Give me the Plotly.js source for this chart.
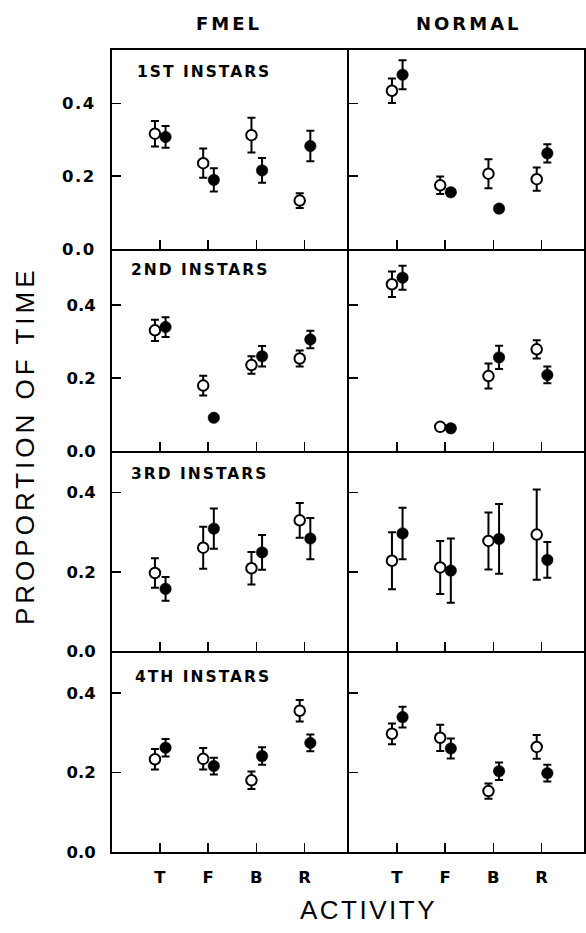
<!DOCTYPE html>
<html>
<head>
<meta charset="utf-8">
<script src="https://cdn.plot.ly/plotly-3.0.1.min.js"></script>
<style>
  html, body { margin: 0; padding: 0; background: #fff; }
  #chart { width: 586px; height: 933px; }
  .xtick text, .ytick text { letter-spacing: 1.5px; }
</style>
</head>
<body>
<div id="chart"></div>
<script>
// Activity categories along each panel's x axis
const activities = ['T', 'F', 'B', 'R'];
const groups = ['FMEL', 'NORMAL'];
const instars = ['1ST INSTARS', '2ND INSTARS', '3RD INSTARS', '4TH INSTARS'];
const yTicks = [0, 0.2, 0.4];
const yTickText = ['0.0', '0.2', '0.4'];

// Mean proportion of time, one row per instar (T, F, B, R)
const fmelOpen = [
  [0.317, 0.236, 0.313, 0.133],
  [0.330, 0.179, 0.235, 0.253],
  [0.197, 0.261, 0.209, 0.330],
  [0.233, 0.234, 0.180, 0.355]
];
const fmelOpenErr = [
  [0.035, 0.040, 0.048, 0.020],
  [0.029, 0.027, 0.024, 0.022],
  [0.037, 0.053, 0.041, 0.044],
  [0.026, 0.027, 0.022, 0.027]
];
const fmelFilled = [
  [0.308, 0.190, 0.216, 0.283],
  [0.339, 0.091, 0.259, 0.305],
  [0.157, 0.309, 0.249, 0.284],
  [0.262, 0.216, 0.241, 0.274]
];
const fmelFilledErr = [
  [0.030, 0.032, 0.034, 0.042],
  [0.027, 0.006, 0.028, 0.024],
  [0.030, 0.051, 0.044, 0.052],
  [0.022, 0.021, 0.022, 0.021]
];
const normalOpen = [
  [0.435, 0.175, 0.207, 0.192],
  [0.456, 0.066, 0.205, 0.278],
  [0.228, 0.211, 0.278, 0.294],
  [0.297, 0.287, 0.153, 0.264]
];
const normalOpenErr = [
  [0.034, 0.024, 0.040, 0.032],
  [0.035, 0.006, 0.034, 0.025],
  [0.072, 0.067, 0.072, 0.114],
  [0.026, 0.033, 0.019, 0.030]
];
const normalFilled = [
  [0.479, 0.156, 0.111, 0.263],
  [0.474, 0.062, 0.256, 0.208],
  [0.297, 0.203, 0.283, 0.230],
  [0.339, 0.260, 0.203, 0.198]
];
const normalFilledErr = [
  [0.040, 0.008, 0.005, 0.025],
  [0.033, 0.006, 0.032, 0.023],
  [0.065, 0.081, 0.088, 0.045],
  [0.026, 0.025, 0.022, 0.021]
];

// Page geometry in pixels: frame line centres
const W = 586, H = 933;
const colEdges = [111, 348, 585];
const rowEdges = [49, 250, 452, 652, 853];
const rowYMax = [0.547, 0.547, 0.5, 0.5];
const openShift = -0.1, filledShift = 0.12;
const LW = 2;   // frame line width; plot areas are inset so shared borders coincide

const px = v => v / W;
const py = v => 1 - v / H;

const series = {
  FMEL: { open: fmelOpen, openErr: fmelOpenErr, filled: fmelFilled, filledErr: fmelFilledErr },
  NORMAL: { open: normalOpen, openErr: normalOpenErr, filled: normalFilled, filledErr: normalFilledErr }
};

const tickFont = { family: 'DejaVu Sans', size: 16.5, color: '#000', weight: 'bold' };
const traces = [];
const layout = {
  width: W, height: H,
  margin: { l: 0, r: 0, t: 0, b: 0 },
  paper_bgcolor: '#fff', plot_bgcolor: '#fff',
  showlegend: false,
  annotations: []
};

function errBar(arr) {
  return { type: 'data', array: arr, visible: true, color: '#000', thickness: 2, width: 4 };
}

instars.forEach((label, r) => {
  groups.forEach((g, c) => {
    const n = r * 2 + c + 1;
    const xa = 'xaxis' + (n === 1 ? '' : n);
    const ya = 'yaxis' + (n === 1 ? '' : n);
    const xr = 'x' + (n === 1 ? '' : n);
    const yr = 'y' + (n === 1 ? '' : n);
    const s = series[g];

    traces.push({
      type: 'scatter', mode: 'markers', xaxis: xr, yaxis: yr,
      x: activities.map((_, i) => i + openShift),
      y: s.open[r],
      error_y: errBar(s.openErr[r]),
      marker: { symbol: 'circle', size: 10.5, color: '#fff', line: { color: '#000', width: 2 } },
      hoverinfo: 'y'
    });
    traces.push({
      type: 'scatter', mode: 'markers', xaxis: xr, yaxis: yr,
      x: activities.map((_, i) => i + filledShift),
      y: s.filled[r],
      error_y: errBar(s.filledErr[r]),
      marker: { symbol: 'circle', size: 11.5, color: '#000', line: { color: '#000', width: 0.5 } },
      hoverinfo: 'y'
    });

    layout[xa] = {
      domain: [px(colEdges[c] + LW / 2), px(colEdges[c + 1] - LW / 2)],
      anchor: yr,
      range: [-0.99, 3.88],
      tickmode: 'array', tickvals: [0, 1, 2, 3], ticktext: activities,
      showticklabels: r === 3,
      ticks: 'inside', ticklen: 9, tickwidth: 1.5, tickcolor: '#000',
      ticklabelstandoff: 9,
      showline: true, mirror: true, linewidth: LW, linecolor: '#000',
      showgrid: false, zeroline: false, fixedrange: true,
      tickfont: tickFont
    };
    layout[ya] = {
      domain: [py(rowEdges[r + 1] - LW / 2), py(rowEdges[r] + LW / 2)],
      anchor: xr,
      range: [0, rowYMax[r]],
      tickmode: 'array', tickvals: yTicks, ticktext: yTickText,
      showticklabels: c === 0,
      ticks: 'inside', ticklen: 9, tickwidth: 1.5, tickcolor: '#000',
      ticklabelstandoff: 11,
      showline: true, mirror: true, linewidth: LW, linecolor: '#000',
      showgrid: false, zeroline: false, fixedrange: true,
      tickfont: tickFont
    };

    // Instar label inside each left-hand panel
    if (c === 0) {
      const labelX = [135, 129, 129, 133][r];
      const labelY = rowEdges[r] + [23, 20, 22.5, 24.5][r];
      layout.annotations.push({
        xref: 'paper', yref: 'paper', x: px(labelX), y: py(labelY),
        xanchor: 'left', yanchor: 'middle', showarrow: false,
        text: '<span style="letter-spacing:2px">' + label + '</span>',
        font: { family: 'DejaVu Sans', size: 15.5, color: '#000', weight: 'bold' }
      });
    }
  });
});

// Column headings
groups.forEach((g, c) => {
  layout.annotations.push({
    xref: 'paper', yref: 'paper',
    x: px([229, 469][c]), y: py(24),
    xanchor: 'center', yanchor: 'middle', showarrow: false,
    text: '<span style="letter-spacing:3px">' + g + '</span>',
    font: { family: 'DejaVu Sans', size: 18, color: '#000', weight: 'bold' }
  });
});

// Shared axis titles
layout.annotations.push({
  xref: 'paper', yref: 'paper', x: px(25), y: py(446),
  xanchor: 'center', yanchor: 'middle', showarrow: false, textangle: -90,
  text: '<span style="letter-spacing:4px">PROPORTION OF TIME</span>',
  font: { family: 'Liberation Sans', size: 26, color: '#000' }
});
layout.annotations.push({
  xref: 'paper', yref: 'paper', x: px(368), y: py(910),
  xanchor: 'center', yanchor: 'middle', showarrow: false,
  text: '<span style="letter-spacing:2.5px">ACTIVITY</span>',
  font: { family: 'Liberation Sans', size: 26, color: '#000' }
});

Plotly.newPlot('chart', traces, layout, { displayModeBar: false, staticPlot: true });
</script>
</body>
</html>
